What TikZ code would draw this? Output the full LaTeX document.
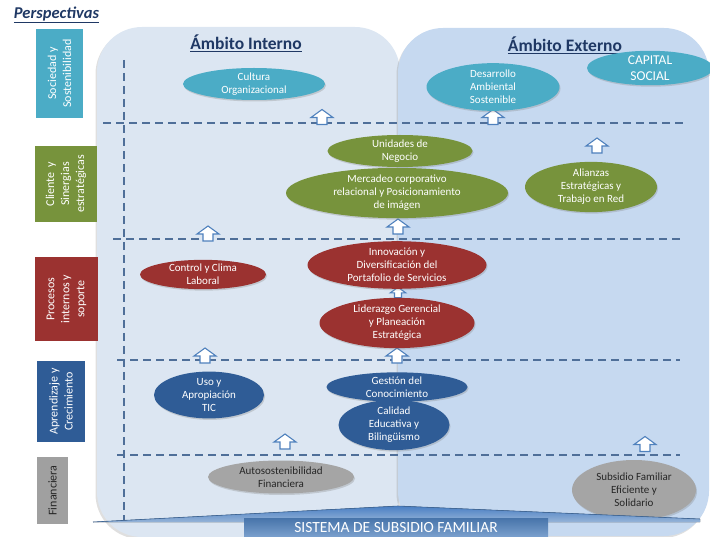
\documentclass[tikz,border=0pt]{standalone}
\usepackage{fontspec}
\setmainfont{Carlito}
\usetikzlibrary{shapes.geometric,shadows}

\definecolor{teal}{HTML}{4BACC6}
\definecolor{olive}{HTML}{77933C}
\definecolor{wine}{HTML}{9B3230}
\definecolor{navy}{HTML}{2F5C96}
\definecolor{stone}{HTML}{A5A5A5}
\definecolor{stonebox}{HTML}{A0A0A0}
\definecolor{inkdark}{HTML}{262626}
\definecolor{titleblue}{HTML}{1F3864}
\definecolor{paneli}{HTML}{DCE6F2}
\definecolor{panele}{HTML}{C6D9F0}
\definecolor{dashblue}{HTML}{4F6F99}
\definecolor{arrowblue}{HTML}{4F81BD}
\definecolor{wedgeblue}{HTML}{4A7FC4}

\begin{document}
\begin{tikzpicture}[x=1pt,y=-1pt,
  panel/.style={rounded corners=45pt, drop shadow={opacity=0.25, shadow xshift=-1.5pt, shadow yshift=-2pt}},
  sep/.style={draw=dashblue, line width=2pt, dash pattern=on 8pt off 5pt},
  oval/.style={ellipse, inner sep=0pt, align=center, text=white,
    font=\fontsize{11}{13}\selectfont,
    drop shadow={opacity=0.3, shadow xshift=1pt, shadow yshift=-1.5pt}},
  catbox/.style={rectangle, rotate=90, inner sep=0pt, align=center, text=white,
    font=\fontsize{12}{15}\selectfont},
  heading/.style={font=\fontsize{17.5}{20}\selectfont\bfseries, text=titleblue},
  arrowstyle/.style={draw=arrowblue, fill=white, line width=1.1pt, line join=miter},
  uparr/.pic={\draw[arrowstyle] (-5,7.5) -- (-5,0.5) -- (-11,0.5) -- (0,-7.5)
                -- (11,0.5) -- (5,0.5) -- (5,7.5) -- cycle;}
]
\useasboundingbox (0,0) rectangle (710,537);

% two scopes of action
\fill[paneli, panel] (97,27) rectangle (400,537);
\fill[panele, panel] (398,28) rectangle (709,536);

% perspective separators
\draw[sep] (124,60) -- (124,522);
\draw[sep] (103,123) -- (684,123);
\draw[sep] (113,239) -- (684,239);
\draw[sep] (117,360) -- (680,360);
\draw[sep] (117,455) -- (680,455);

% headings
\node (persp) at (56.5,15) {\fontsize{16.5}{19}\selectfont\bfseries\itshape\color{titleblue}\underline{Perspectivas}};
\node[heading] (interno) at (246,43) {\underline{Ámbito Interno}};
\node[heading] (externo) at (565,45) {\underline{Ámbito Externo}};

% up arrows
\pic at (322,117) {uparr};
\pic at (493,117) {uparr};
\pic at (597,145.5) {uparr};
\pic at (208,233.5) {uparr};
\pic at (398,226.5) {uparr};
\pic[scale=0.7] at (398,292.5) {uparr};
\pic at (397,355.5) {uparr};
\pic at (205,355.5) {uparr};
\pic at (285,441.5) {uparr};
\pic at (645,444) {uparr};

% society and sustainability
\node[oval, fill=teal, minimum width=142, minimum height=32] (cultura) at (254,84) {Cultura\\Organizacional};
\node[oval, fill=teal, minimum width=133, minimum height=37] (desarrollo) at (493,87) {Desarrollo\\Ambiental\\Sostenible};
\node[oval, fill=teal, minimum width=126, minimum height=33, font=\fontsize{13.5}{15.5}\selectfont] (capital) at (650,68) {CAPITAL\\SOCIAL};

% clients and strategic synergies
\node[oval, fill=olive, minimum width=145, minimum height=32] (unidades) at (400,151) {Unidades de\\Negocio};
\node[oval, fill=olive, minimum width=222, minimum height=40] (mercadeo) at (397,193) {Mercadeo corporativo\\relacional y Posicionamiento\\de imágen};
\node[oval, fill=olive, minimum width=132, minimum height=37] (alianzas) at (591,187) {Alianzas\\Estratégicas y\\Trabajo en Red};

% internal processes
\node[oval, fill=wine, minimum width=126, minimum height=27] (control) at (203,274.5) {Control y Clima\\Laboral};
\node[oval, fill=wine, minimum width=179, minimum height=40] (innovacion) at (397,265) {Innovación y\\Diversificación del\\Portafolio de Servicios};
\node[oval, fill=wine, minimum width=155, minimum height=43] (liderazgo) at (397,323) {Liderazgo Gerencial\\y Planeación\\Estratégica};

% learning and growth
\node[oval, fill=navy, minimum width=110, minimum height=40] (uso) at (209,395) {Uso y\\Apropiación\\TIC};
\node[oval, fill=navy, minimum width=141, minimum height=27] (gestion) at (397,387) {Gestión del\\Conocimiento};
\node[oval, fill=navy, minimum width=111, minimum height=44] (calidad) at (394,425) {Calidad\\Educativa y\\Bilingüismo};

% financial
\node[oval, fill=stone, text=inkdark, minimum width=146, minimum height=33] (auto) at (281,477) {Autosostenibilidad\\Financiera};
\node[oval, fill=stone, text=inkdark, minimum width=124, minimum height=60] (subsidio) at (634,490) {Subsidio Familiar\\Eficiente y\\Solidario};

% base banner
\fill[top color=wedgeblue, bottom color=white!40!arrowblue] (93,522) -- (398,506) -- (700,519) -- (700,522) -- cycle;
\draw[arrowblue!80!black, line width=0.6pt] (93,522) -- (398,506) -- (700,519);
\node[rectangle, inner sep=0pt, minimum width=304, minimum height=19, top color=arrowblue!90!black, bottom color=white!25!arrowblue, text=white,
  font=\fontsize{15.5}{17}\selectfont] (sistema) at (396,527.5) {SISTEMA DE SUBSIDIO FAMILIAR};

% perspective labels
\node[catbox, fill=teal, minimum width=89, minimum height=47] (sociedad) at (59.5,73.5) {Sociedad y\\Sostenibilidad};
\node[catbox, fill=olive, minimum width=76, minimum height=62] (cliente) at (66,184) {Cliente\ \ y\\Sinergias\\estratégicas};
\node[catbox, fill=wine, minimum width=84, minimum height=63] (procesos) at (66.5,299) {Procesos\\internos y\\soporte};
\node[catbox, fill=navy, minimum width=81, minimum height=48] (aprendizaje) at (61,401.5) {Aprendizaje y\\Crecimiento};
\node[catbox, fill=stonebox, text=inkdark, minimum width=67, minimum height=31] (financiera) at (52.5,490.5) {Financiera};
\end{tikzpicture}
\end{document}
